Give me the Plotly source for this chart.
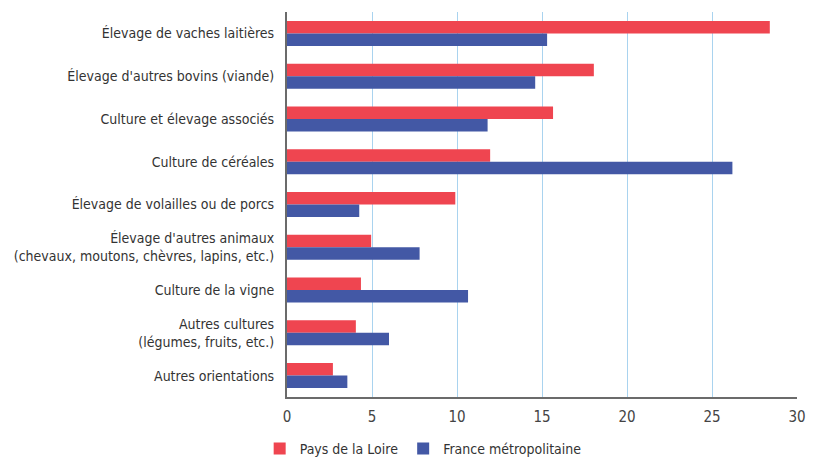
import plotly.graph_objects as go

categories = [
    "Élevage de vaches laitières",
    "Élevage d'autres bovins (viande)",
    "Culture et élevage associés",
    "Culture de céréales",
    "Élevage de volailles ou de porcs",
    "Élevage d'autres animaux<br>(chevaux, moutons, chèvres, lapins, etc.)",
    "Culture de la vigne",
    "Autres cultures<br>(légumes, fruits, etc.)",
    "Autres orientations",
]
pays_de_la_loire = [28.4, 18.05, 15.65, 11.95, 9.9, 4.95, 4.35, 4.05, 2.7]
france_metro = [15.3, 14.6, 11.8, 26.2, 4.25, 7.8, 10.65, 6.0, 3.55]
x_ticks = [0, 5, 10, 15, 20, 25, 30]

FONT = "DejaVu Sans Condensed, Liberation Sans Narrow, sans-serif"

fig = go.Figure()
fig.add_trace(go.Bar(y=categories, x=pays_de_la_loire, orientation="h",
                     name="Pays de la Loire", marker=dict(color="#ef4550", line=dict(width=0))))
fig.add_trace(go.Bar(y=categories, x=france_metro, orientation="h",
                     name="France métropolitaine", marker=dict(color="#4358a5", line=dict(width=0))))

fig.update_layout(
    width=821, height=459,
    margin=dict(l=279, r=32, t=4, b=70, autoexpand=False),
    barmode="group", bargap=0.415, bargroupgap=0,
    plot_bgcolor="white", paper_bgcolor="white",
    font=dict(family=FONT, size=14, color="#333333"),
    xaxis=dict(range=[0, 30], tickvals=x_ticks, showgrid=True, gridcolor="#a9d3ef", gridwidth=1,
               showline=True, linecolor="#6b6b6b", linewidth=2, zeroline=False,
               ticks="outside", ticklen=5, tickcolor="rgba(0,0,0,0)", automargin=False,
               tickfont=dict(size=15, color="#444444")),
    yaxis=dict(autorange="reversed", showgrid=False, showline=True, linecolor="#6b6b6b",
               linewidth=2, ticks="outside", ticklen=8, tickcolor="rgba(0,0,0,0)", automargin=False,
               tickfont=dict(size=14, color="#333333")),
    legend=dict(orientation="h", x=0.267, xanchor="center", y=-0.135, yanchor="middle",
                font=dict(size=14, color="#333333"), traceorder="normal"),
    showlegend=True,
)

fig.write_html("out.html")
